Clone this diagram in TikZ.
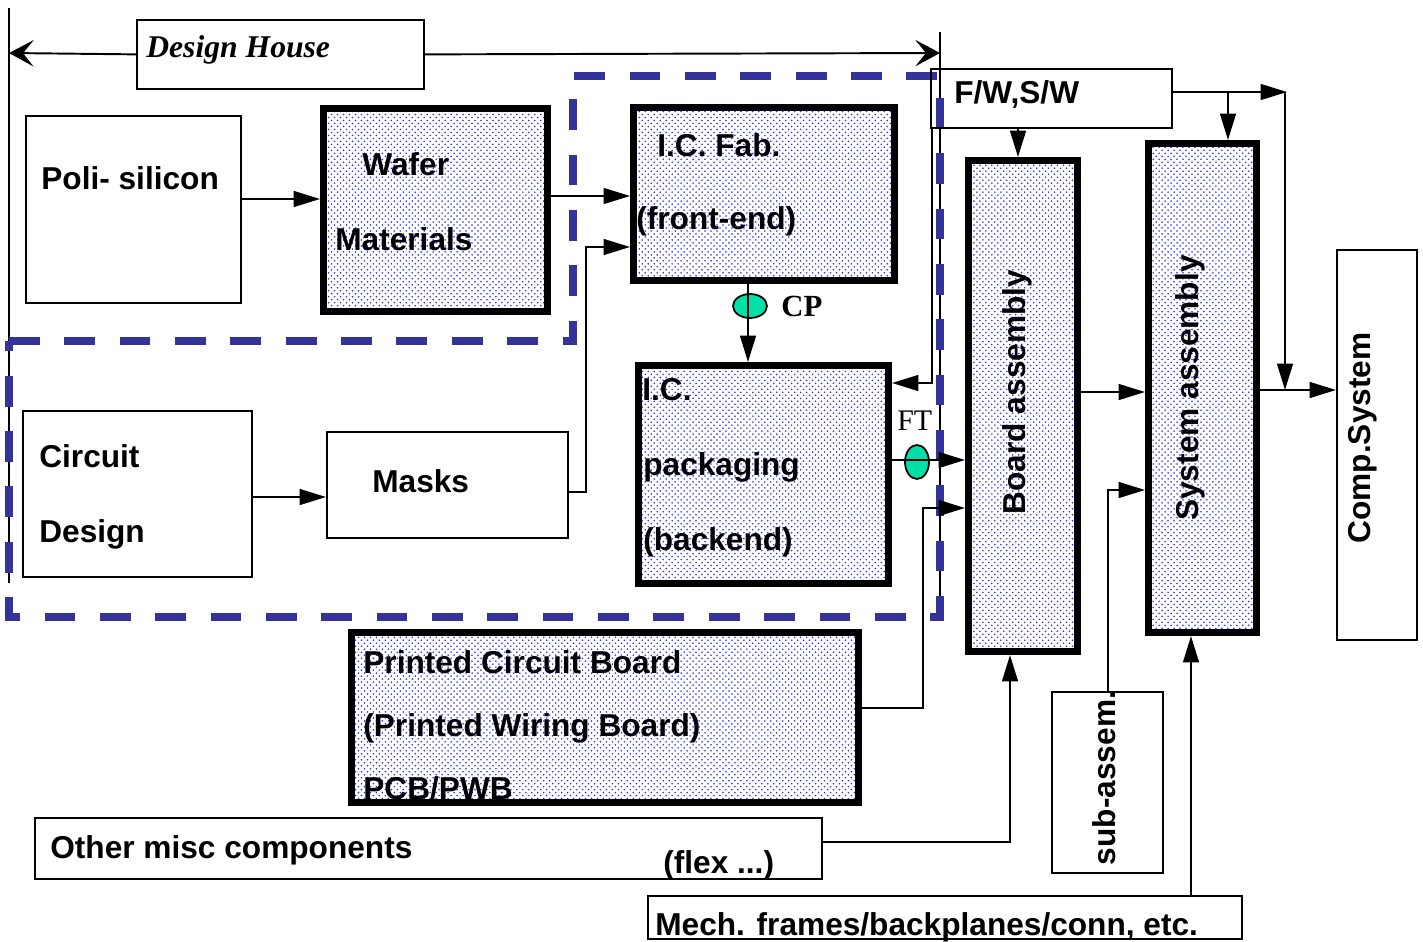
\documentclass[tikz,border=0pt]{standalone}
\usepackage{fontspec}
\setmainfont{Liberation Sans}
\newfontfamily\serifschrift{Liberation Serif}
\usetikzlibrary{arrows.meta,shapes.geometric,patterns}
\definecolor{rahmenblau}{RGB}{51,51,153}
\definecolor{tuerkis}{RGB}{0,224,168}
\definecolor{punktblau}{RGB}{40,40,255}
\pgfdeclarepatternformonly{blaupunkte}{\pgfqpoint{-1pt}{-1pt}}{\pgfqpoint{5pt}{5pt}}{\pgfqpoint{3.4pt}{3.4pt}}{%
  \pgfpathcircle{\pgfqpoint{0pt}{0pt}}{.5pt}%
  \pgfpathcircle{\pgfqpoint{1.7pt}{1.7pt}}{.5pt}%
  \pgfusepathqfill}
\begin{document}
\begin{tikzpicture}[x=0.2mm,y=-0.2mm,
  txt/.style={font=\bfseries\fontsize{18}{21}\selectfont,anchor=base west,inner sep=0pt},
  senk/.style={font=\bfseries\fontsize{18}{21}\selectfont,rotate=90,inner sep=0pt},
  kasten/.style={draw,line width=1pt,anchor=north west,inner sep=0pt},
  dick/.style={kasten,line width=4pt,preaction={fill=white},pattern=blaupunkte,pattern color=punktblau},
  pfeil/.style={line width=1.1pt,-{Triangle[length=15pt,width=9pt]}},
  haus/.style={line width=1.1pt,-{Stealth[length=14pt,width=15pt,inset=6pt]}},
  punkt/.style={ellipse,draw,line width=1pt,fill=tuerkis,inner sep=0pt}]
\useasboundingbox (0,0) rectangle (1423,942);
%
% --- Design House: Klammer oben ---
\draw[line width=1.1pt] (9,8) -- (9,583);
\draw[line width=1.1pt] (940,32) -- (940,617);
\node[kasten,minimum width=57.4mm,minimum height=13.8mm] (dh) at (136,19) {};
\node[anchor=base west,inner sep=0pt,font=\serifschrift\bfseries\itshape\fontsize{18}{21}\selectfont]
  (dhT) at (146,57) {Design House};
\coordinate (dhl) at (9,53);
\coordinate (dhr) at (940,53);
\draw[haus] (dh.west) -- (dhl);
\draw[haus] (dh.east) -- (dhr);
%
% --- gestrichelter Rahmen ---
\draw[rahmenblau,line width=4pt,dash pattern=on 17.5pt off 14pt]
  (9,341) -- (573,341) -- (573,76) -- (940,76) -- (940,617) -- (9,617) -- cycle;
%
% --- Kaesten links ---
\node[kasten,minimum width=43mm,minimum height=37.4mm] (poli) at (25,115) {};
\node[txt] (poliT) at (41,189) {Poli- silicon};
\node[dick,minimum width=44.8mm,minimum height=40.6mm] (wafer) at (320,105) {};
\node[txt] (waferT) at (362,175) {Wafer};
\node[txt] (waferT2) at (335,250) {Materials};
\node[kasten,minimum width=45.8mm,minimum height=33.2mm] (circ) at (22,410) {};
\node[txt] (circT) at (39,467) {Circuit};
\node[txt] (circT2) at (39,542) {Design};
\node[kasten,minimum width=48.2mm,minimum height=21.2mm] (masks) at (326,431) {};
\node[txt] (masksT) at (372,492) {Masks};
%
% --- I.C. Fab. und Packaging ---
\node[dick,minimum width=52.2mm,minimum height=34.6mm] (fab) at (630,104) {};
\node[txt] (fabT) at (657,156) {I.C. Fab.};
\node[txt] (fabT2) at (636,229) {(front-end)};
\node[dick,minimum width=50mm,minimum height=43.6mm] (pack) at (635,362) {};
\node[txt] (packT) at (642,400) {I.C.};
\node[txt] (packT2) at (643,475) {packaging};
\node[txt] (packT3) at (643,550) {(backend)};
%
% --- rechte Seite ---
\node[kasten,minimum width=48.2mm,minimum height=11.8mm] (fw) at (930,68) {};
\node[txt] (fwT) at (954,103) {F/W,S/W};
\node[dick,minimum width=21.8mm,minimum height=98.2mm] (board) at (965,157) {};
\node[senk] (boardT) at (1017,392) {Board assembly};
\node[dick,minimum width=21.6mm,minimum height=97.8mm] (sys) at (1145,140) {};
\node[senk] (sysT) at (1190,388) {System assembly};
\node[kasten,minimum width=16mm,minimum height=78mm] (comp) at (1336,249) {};
\node[senk] (compT) at (1363,438) {Comp.System};
\node[kasten,minimum width=22.2mm,minimum height=36.2mm] (sub) at (1051,691) {};
\node[senk] (subT) at (1104,778) {sub-assem.};
%
% --- unten ---
\node[dick,minimum width=101.4mm,minimum height=34mm] (pcb) at (348,629) {};
\node[txt] (pcbT) at (363,673) {Printed Circuit Board};
\node[txt] (pcbT2) at (363,736) {(Printed Wiring Board)};
\node[txt] (pcbT3) at (363,799) {PCB/PWB};
\node[kasten,minimum width=157.4mm,minimum height=12.2mm] (misc) at (34,817) {};
\node[txt] (miscT) at (50,858) {Other misc components};
\node[txt] (miscT2) at (663,873) {(flex ...)};
\node[kasten,minimum width=118.8mm,minimum height=8.6mm] (mech) at (647,895) {};
\node[txt] (mechT) at (655,935) {Mech. frames/backplanes/conn, etc.};
%
% --- Pruefpunkte CP und FT ---
\node[punkt,minimum width=6.8mm,minimum height=4.8mm] (cp) at (750,306) {};
\node[anchor=base west,inner sep=0pt,font=\serifschrift\bfseries\fontsize{17.5}{20}\selectfont]
  (cpT) at (781,316) {CP};
\node[punkt,minimum width=4.8mm,minimum height=6.8mm] (ft) at (917,462) {};
\node[anchor=base west,inner sep=0pt,font=\serifschrift\fontsize{17}{20}\selectfont]
  (ftT) at (897,430) {FT};
%
% --- Pfeile ---
\draw[pfeil] (poli.east |- 0,199) -- (wafer.west |- 0,199);
\draw[pfeil] (wafer.east |- 0,196) -- (fab.west |- 0,196);
\draw[pfeil] (circ.east |- 0,497) -- (masks.west |- 0,497);
\draw[pfeil] (masks.east |- 0,492) -- ++(17,0) |- (fab.west |- 0,247);
\draw[pfeil] (fab.south -| 748,0) -- (pack.north -| 748,0);
\draw[pfeil] (pack.east |- 0,460) -- (board.west |- 0,460);
\draw[pfeil] (pcb.east |- 0,708) -| (923,508) -- (board.west |- 0,508);
\draw[pfeil] (fw.south -| 932,0) |- (pack.east |- 0,383);
\draw[pfeil] (fw.south -| 1018,0) -- (board.north -| 1018,0);
\coordinate (fwende) at (1287,92);
\coordinate (knoten) at (1285,390);
\draw[pfeil] (fw.east |- 0,92) -- (fwende);
\draw[pfeil] (fwende -| 1228,0) -- (sys.north -| 1228,0);
\draw[pfeil] (fwende -| knoten) -- (knoten);
\draw[pfeil] (board.east |- 0,392) -- (sys.west |- 0,392);
\draw[pfeil] (sys.east |- knoten) -- (comp.west |- knoten);
\draw[pfeil] (sub.north -| 1108,0) |- (sys.west |- 0,490);
\draw[pfeil] (misc.east |- 0,842) -| (board.south -| 1010,0);
\draw[pfeil] (mech.north -| 1191,0) -- (sys.south -| 1191,0);
\end{tikzpicture}
\end{document}
